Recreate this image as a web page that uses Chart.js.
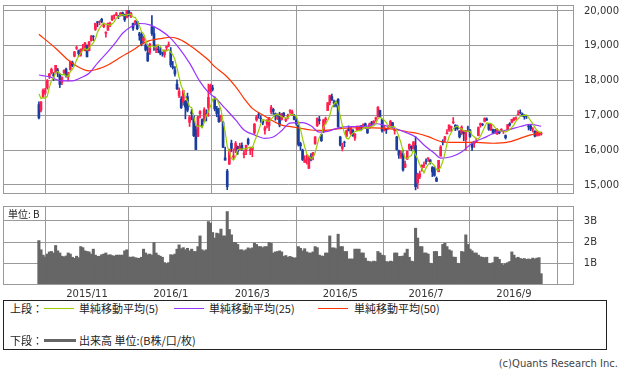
<!DOCTYPE html>
<html lang="ja">
<head>
<meta charset="UTF-8">
<title>株価チャート</title>
<script src="https://cdn.jsdelivr.net/npm/chart.js"></script>
<style>
  body { margin: 0; background: #fff; width: 625px; height: 373px; overflow: hidden; position: relative;
         font-family: "Noto Sans CJK JP", "DejaVu Sans", sans-serif; color: #222; }
  #priceWrap { position: absolute; left: 0; top: 0; width: 625px; height: 200px; }
  #volWrap { position: absolute; left: 0; top: 200px; width: 625px; height: 100px; }
  #unit { position: absolute; left: 8px; top: 207px; font-size: 10px; line-height: 14px; }
  #legend { position: absolute; left: 3px; top: 300px; width: 602px; height: 48px; border: 1px solid #222; font-size: 11px; }
  #legend span { position: absolute; line-height: 14px; white-space: nowrap; }
  #legend i { position: absolute; height: 1px; }
  #copy { position: absolute; right: 7px; top: 357px; font-size: 10px; line-height: 14px; font-family: "DejaVu Sans", sans-serif; color: #444; }
</style>
</head>
<body>
<div id="priceWrap"><canvas id="priceChart"></canvas></div>
<div id="volWrap"><canvas id="volChart"></canvas></div>
<div id="unit">単位: B</div>
<div id="legend">
  <span style="left:6px;top:0px">上段：</span>
  <i style="left:40px;top:7px;width:30px;background:#99cc00"></i>
  <span style="left:75px;top:0px">単純移動平均(5)</span>
  <i style="left:170px;top:7px;width:30px;background:#9933ff"></i>
  <span style="left:205px;top:0px">単純移動平均(25)</span>
  <i style="left:314px;top:7px;width:30px;background:#ff3300"></i>
  <span style="left:350px;top:0px">単純移動平均(50)</span>
  <span style="left:6px;top:32px">下段：</span>
  <i style="left:40px;top:38px;width:32px;height:3px;background:#666"></i>
  <span style="left:75px;top:32px">出来高 単位:(B株/口/枚)</span>
</div>
<div id="copy">(c)Quants Research Inc.</div>

<script>
// trading-day index of the first session of each month shown on the axis
const monthIdx = [23, 63, 102, 144, 185, 227];
const monthLabels = ['2015/11', '2016/1', '2016/3', '2016/5', '2016/7', '2016/9'];
const priceTicks = [15000, 16000, 17000, 18000, 19000, 20000];
const volTicks = [1, 2, 3];

const opens = [17310,17150,17530,17640,17790,18110,18220,18170,18230,18300,
  18170,17950,18230,18330,18100,18320,18520,18700,18930,18860,
  18730,18920,18860,19010,18860,19150,19280,19470,19690,19690,
  19760,19550,19360,19450,19580,19750,19870,19900,19860,19870,
  19950,19890,19820,20000,19860,19640,19670,19700,19340,19330,
  19140,19020,18800,18800,19550,19350,18880,18900,18860,18770,
  18740,18950,19000,18820,18400,18300,17900,17570,17460,17380,
  17400,17540,16800,17100,16980,16600,16400,17050,16880,16830,
  17050,17230,17680,17790,17460,17190,16990,16960,16800,15780,
  15400,15600,16200,15800,16000,16100,16030,16140,15880,15980,
  16310,16000,16000,16500,16870,17020,16920,16830,16570,16750,
  16700,17100,17170,17050,16900,17030,16880,17070,16850,16950,
  17120,17050,16990,16860,16720,16190,16000,15650,15740,15480,
  15780,15840,16180,16700,16880,16450,16540,16870,17140,17370,
  17540,17390,17300,17460,16380,16050,16220,16400,16620,16480,
  16580,16350,16580,16610,16700,16690,16760,16610,16640,16790,
  16790,16890,16970,17140,16880,16620,16600,16660,16720,16790,
  16560,16380,15980,15820,15900,15510,15740,16040,16110,16040,
  16130,15060,15240,15510,15560,15690,15750,15720,15500,15500,
  15190,15380,15830,16250,16300,16470,16590,16650,16790,16720,
  16670,16550,16490,16520,16300,16640,16580,16180,16190,16240,
  16420,16720,16740,16830,16890,16750,16590,16600,16560,16470,
  16530,16580,16540,16420,16590,16760,16800,16870,16920,17020,
  17090,17040,16980,16970,16700,16690,16600,16540,16420,16440,16460];

const highs = [17390,17400,17760,17780,18030,18210,18360,18230,18440,18350,
  18210,18110,18310,18360,18240,18560,18560,18840,18990,18880,
  18910,19040,19100,19030,19120,19300,19290,19650,19700,19720,
  19790,19640,19400,19650,19680,19860,19890,19960,19870,19960,
  19970,19910,20020,20010,19960,19650,19730,19710,19390,19380,
  19280,19060,18980,19070,19870,19540,19030,18990,18960,18820,
  18880,18990,19110,18950,18550,18400,18020,17790,17540,17720,
  17430,17640,17000,17170,17000,16700,16970,17140,16900,17220,
  17160,17900,17900,17870,17530,17260,17210,17010,16830,16090,
  15450,16030,16290,16040,16250,16120,16200,16210,16000,16150,
  16350,16090,16090,16770,17000,17080,16990,16870,16690,16880,
  16940,17290,17200,17070,17050,17090,17060,17080,16920,17040,
  17170,17150,17030,16960,16730,16230,16030,15840,15870,15830,
  15900,15940,16390,16930,16970,16460,16880,16950,17370,17580,
  17610,17440,17420,17480,16400,16200,16260,16580,16700,16670,
  16590,16480,16700,16700,16710,16760,16780,16620,16780,16830,
  16850,16950,17250,17150,16900,16710,16610,16720,16860,16800,
  16630,16400,16000,15980,16000,15690,15980,16180,16130,16250,
  16390,15340,15400,15580,15660,15750,15790,15730,15530,15520,
  15230,15710,16130,16300,16400,16590,16730,16690,16940,16730,
  16720,16560,16700,16560,16570,16690,16600,16230,16260,16350,
  16670,16780,16770,16930,16930,16760,16750,16610,16600,16620,
  16550,16620,16570,16440,16740,16790,16890,16940,16960,17140,
  17160,17070,17020,17000,16720,16740,16650,16560,16550,16520,16520];

const lows = [16900,17100,17500,17600,17750,18060,18190,18000,18190,18110,
  17800,17880,18160,18100,17990,18300,18400,18680,18890,18700,
  18700,18880,18850,18680,18850,19130,19150,19440,19550,19600,
  19660,19520,19250,19440,19550,19720,19770,19860,19780,19850,
  19860,19700,19800,19850,19810,19440,19600,19460,19160,19000,
  19050,18850,18550,18750,19300,18870,18800,18800,18740,18700,
  18670,18850,18970,18390,18330,18130,17740,17510,17200,17290,
  16900,17100,16680,16870,16390,16020,16390,16930,16650,16830,
  16840,16970,17640,17700,17130,16960,16800,16830,16070,15710,
  14865,15590,15960,15740,15930,15880,16000,15990,15780,15870,
  16150,15870,15810,16470,16830,16920,16800,16730,16460,16640,
  16560,17040,17030,16860,16880,16670,16860,16960,16820,16900,
  17060,16990,16870,16720,16120,16000,15700,15650,15600,15470,
  15690,15720,16170,16680,16750,16250,16500,16750,17140,17300,
  17430,17240,17240,16660,16120,15980,16100,16380,16550,16450,
  16400,16280,16570,16560,16580,16650,16630,16480,16630,16700,
  16750,16830,16950,16940,16520,16550,16480,16600,16700,16640,
  16460,16000,15760,15760,15400,15500,15730,16000,15980,16030,
  14860,14900,15180,15400,15500,15600,15680,15600,15240,15250,
  15100,15380,15830,16150,16230,16470,16540,16530,16760,16560,
  16580,16350,16440,16270,16000,16540,16370,15990,16080,16220,
  16410,16660,16700,16810,16850,16570,16560,16470,16480,16450,
  16470,16540,16480,16320,16590,16690,16780,16840,16880,17010,
  17040,16970,16890,16910,16580,16560,16520,16380,16400,16410,16430];

const closes = [16930,17388,17722,17725,18005,18186,18322,18141,18438,18234,
  17891,18096,18291,18131,18207,18554,18435,18825,18947,18777,
  18903,18935,19083,18683,19116,19265,19265,19642,19671,19697,
  19697,19596,19393,19649,19649,19859,19879,19924,19847,19944,
  19883,19747,20012,19938,19939,19504,19698,19492,19301,19046,
  19230,18883,18565,19049,19353,18986,18916,18886,18789,18769,
  18873,18982,19033,18450,18374,18191,17767,17697,17219,17715,
  17240,17147,16955,17048,16416,16017,16958,17110,16708,17163,
  17041,17518,17865,17750,17191,17044,16819,17004,16085,15713,
  14952,16022,16054,15836,16196,15967,16111,16052,15916,16140,
  16188,16027,16086,16747,16960,17015,16911,16784,16643,16852,
  16939,17233,17117,16974,16937,16725,17049,17000,16892,17002,
  17134,17103,16879,16759,16164,16123,15733,15715,15750,15821,
  15751,15928,16381,16911,16848,16275,16874,16906,17363,17572,
  17440,17353,17290,16666,16147,16106,16216,16565,16579,16646,
  16412,16467,16652,16644,16646,16736,16654,16499,16757,16772,
  16834,16931,17234,16955,16562,16642,16580,16675,16830,16668,
  16601,16019,15859,15919,15434,15599,15965,16169,16065,16238,
  14952,15309,15323,15566,15575,15682,15775,15669,15378,15276,
  15106,15708,16095,16231,16385,16497,16723,16681,16810,16627,
  16620,16383,16664,16476,16569,16635,16391,16083,16254,16254,
  16650,16764,16735,16919,16869,16596,16745,16486,16545,16598,
  16497,16597,16555,16360,16737,16725,16887,16926,16925,17037,
  17081,17012,16958,16965,16672,16612,16614,16405,16519,16480,16500];

// volume in billions of shares
const volume = [2.08,1.65,1.40,1.31,1.45,1.55,1.57,1.50,1.85,1.60,
  1.50,1.35,1.32,1.36,1.50,1.45,1.30,1.25,1.35,1.28,
  1.80,1.75,1.60,1.57,1.55,1.45,1.68,1.40,1.34,1.35,
  1.42,1.45,1.50,1.40,1.42,1.38,1.35,1.40,1.40,1.40,
  1.40,1.60,1.65,1.31,1.30,1.32,1.28,1.26,1.25,1.30,
  1.68,1.50,1.42,1.45,1.40,1.99,1.50,1.40,1.35,1.30,
  1.05,1.00,1.05,1.42,1.40,1.45,1.68,1.88,1.70,1.75,
  1.65,1.72,1.60,1.68,1.57,1.57,1.80,2.30,1.65,1.60,
  1.65,2.97,2.90,2.46,2.20,2.43,2.40,2.62,2.30,2.30,
  3.44,2.60,2.35,2.00,1.99,1.90,1.65,1.65,1.60,1.65,
  1.74,1.70,1.74,1.96,1.90,1.80,1.80,1.75,1.80,1.80,
  1.99,1.95,1.50,1.55,1.57,1.60,1.55,1.34,1.38,1.30,
  1.34,1.30,1.26,1.28,1.80,1.72,1.60,1.70,1.55,1.50,
  1.50,1.55,1.80,1.75,1.40,1.36,1.35,1.50,1.50,2.30,
  1.74,1.74,1.70,2.38,1.80,1.80,1.57,1.57,1.22,1.22,
  1.22,1.68,1.68,1.68,1.50,1.50,1.26,1.12,1.10,1.08,
  1.12,1.10,1.57,1.50,1.40,1.38,1.10,1.08,1.12,1.10,
  1.50,1.50,1.34,1.34,1.36,1.50,1.68,1.30,1.12,1.10,
  2.66,2.20,1.80,1.80,1.50,1.50,1.45,1.02,1.00,1.57,
  1.57,1.34,1.34,1.90,1.96,1.80,1.65,1.60,1.31,1.30,
  1.02,1.00,1.57,1.55,2.35,1.90,1.68,1.60,1.50,1.50,
  1.40,1.32,1.30,1.28,1.30,1.02,1.00,1.05,1.31,1.30,
  1.20,1.00,0.95,1.00,1.05,1.10,1.55,1.40,1.26,1.30,
  1.24,1.22,1.24,1.20,1.22,1.20,1.26,1.22,1.26,1.28,0.53];

// simple moving averages
const ma5 = [17620,17483,17513,17482,17554,17805,17992,18076,18218,18264,
  18205,18160,18190,18129,18123,18256,18324,18430,18594,18708,
  18777,18877,18929,18876,18944,19016,19082,19194,19392,19508,
  19594,19661,19611,19606,19597,19629,19686,19792,19832,19891,
  19895,19869,19887,19905,19904,19828,19818,19714,19587,19408,
  19353,19190,19005,18955,19016,18967,18974,19038,18986,18869,
  18847,18860,18889,18821,18742,18606,18363,18096,17850,17718,
  17528,17404,17255,17221,16961,16717,16679,16710,16642,16791,
  16996,17108,17259,17467,17473,17474,17334,17162,16829,16533,
  16115,15955,15765,15715,15812,16015,16033,16032,16048,16037,
  16081,16065,16071,16238,16402,16567,16744,16883,16863,16841,
  16826,16890,16957,17023,17040,16997,16960,16937,16921,16934,
  17015,17026,17002,16975,16808,16606,16332,16099,15897,15828,
  15754,15793,15926,16158,16364,16469,16658,16763,16853,16998,
  17231,17327,17404,17264,16979,16712,16485,16340,16323,16422,
  16484,16534,16551,16564,16564,16629,16666,16636,16658,16684,
  16703,16759,16906,16945,16903,16865,16795,16683,16658,16679,
  16671,16559,16395,16213,15966,15766,15755,15817,15846,16007,
  15878,15747,15577,15478,15345,15491,15584,15653,15616,15556,
  15441,15427,15513,15683,15905,16183,16386,16503,16619,16668,
  16692,16624,16621,16554,16542,16545,16547,16431,16386,16323,
  16326,16401,16531,16664,16787,16777,16773,16723,16648,16594,
  16574,16545,16558,16521,16549,16595,16653,16727,16840,16900,
  16971,16996,17003,17011,16938,16844,16764,16654,16564,16526,16504];

// [trading-day index, value]
const ma25 = [[0,18160],[5,18110],[11,17990],[16,17990],[20,18080],[24,18210],[28,18500],
  [33,18830],[37,19120],[40,19360],[44,19550],[48,19640],[53,19600],[58,19450],[63,19215],
  [67,18930],[72,18500],[77,17970],[81,17660],[84,17520],[89,17200],[94,16870],[98,16580],
  [103,16440],[108,16340],[112,16380],[116,16560],[120,16780],[126,16790],[130,16700],
  [134,16520],[138,16540],[142,16620],[146,16670],[152,16680],[158,16700],[161,16760],
  [166,16700],[170,16630],[175,16520],[180,16380],[184,16150],[189,15910],[192,15770],
  [197,15810],[202,15950],[207,16200],[214,16390],[219,16530],[224,16580],[230,16680],
  [235,16740],[240,16690]];

const ma50 = [[0,19330],[8,18930],[14,18590],[18,18420],[24,18280],[28,18330],[33,18450],
  [39,18670],[45,18880],[51,19110],[59,19215],[63,19245],[67,19190],[73,18975],[78,18740],
  [81,18590],[84,18400],[89,18160],[94,17830],[98,17490],[102,17200],[107,17010],[111,16870],
  [116,16720],[121,16670],[125,16630],[130,16580],[136,16570],[144,16620],[152,16645],
  [160,16640],[170,16600],[176,16530],[181,16480],[186,16390],[192,16250],[197,16225],
  [203,16225],[209,16225],[217,16200],[224,16230],[230,16340],[235,16440],[240,16510]];

const UP = '#ff1e4e';
const DOWN = '#1a3c9e';
const GRID = '#9a9a9a';
const X_MIN = -17.15, X_MAX = 255.7;

const candleColors = closes.map((c, i) => c >= opens[i] ? UP : DOWN);

// draws the box round each plot area
const frame = {
  id: 'frame',
  afterDraw(chart) {
    const a = chart.chartArea, ctx = chart.ctx;
    ctx.save();
    ctx.strokeStyle = GRID;
    ctx.lineWidth = 1;
    ctx.strokeRect(a.left + 0.5, a.top + 0.5, a.right - a.left - 1, a.bottom - a.top - 1);
    ctx.restore();
  }
};

const tickFont = { family: 'DejaVu Sans', size: 10 };

function monthAxis(showLabels) {
  return {
    type: 'linear', min: X_MIN, max: X_MAX, offset: false,
    grid: { color: GRID, drawTicks: false },
    border: { display: false },
    afterBuildTicks: s => { s.ticks = monthIdx.map(v => ({ value: v })); },
    ticks: {
      display: showLabels, autoSkip: false, maxRotation: 0, padding: 3,
      font: tickFont, color: '#333',
      callback: v => monthLabels[monthIdx.indexOf(v)]
    },
    afterFit: s => { s.height = showLabels ? 15 : 0; s.paddingLeft = 0; s.paddingRight = 0; }
  };
}

// right-hand value axis; the label paddings are cleared so the plot keeps its box
function valueAxis(min, max, ticks, width, pad, align, fmt) {
  return {
    position: 'right', min: min, max: max,
    grid: { color: GRID, drawTicks: false },
    border: { display: false },
    afterBuildTicks: s => { s.ticks = ticks.map(v => ({ value: v })); },
    ticks: { padding: pad, crossAlign: align, font: tickFont, color: '#333', callback: fmt },
    afterFit: s => { s.width = width; s.paddingTop = 0; s.paddingBottom = 0; }
  };
}

new Chart(document.getElementById('priceChart'), {
  type: 'bar',
  data: {
    datasets: [
      { type: 'line', data: ma5.map((v, i) => ({ x: i, y: v })), borderColor: '#99cc00',
        borderWidth: 1.2, pointRadius: 0, order: 0 },
      { type: 'line', data: ma25.map(p => ({ x: p[0], y: p[1] })), borderColor: '#9933ff',
        borderWidth: 1.2, pointRadius: 0, cubicInterpolationMode: 'monotone', order: 1 },
      { type: 'line', data: ma50.map(p => ({ x: p[0], y: p[1] })), borderColor: '#ff3300',
        borderWidth: 1.2, pointRadius: 0, cubicInterpolationMode: 'monotone', order: 1 },
      { data: opens.map((o, i) => ({ x: i, y: [o, closes[i]] })), backgroundColor: candleColors,
        barThickness: 2, grouped: false, order: 2 },
      { data: lows.map((l, i) => ({ x: i, y: [l, highs[i]] })), backgroundColor: candleColors,
        barThickness: 1, grouped: false, order: 3 }
    ]
  },
  options: {
    responsive: true, maintainAspectRatio: false, animation: false,
    layout: { padding: { left: 3, top: 5, right: 0, bottom: 6 } },
    plugins: { legend: { display: false }, tooltip: { enabled: false } },
    scales: {
      x: monthAxis(false),
      y: valueAxis(14741, 20172, priceTicks, 51, 10, 'near', v => v.toLocaleString('en-US'))
    }
  },
  plugins: [frame]
});

new Chart(document.getElementById('volChart'), {
  type: 'bar',
  data: {
    datasets: [
      { data: volume.map((v, i) => ({ x: i, y: v })), backgroundColor: '#666666',
        barThickness: 2.4, grouped: false }
    ]
  },
  options: {
    responsive: true, maintainAspectRatio: false, animation: false,
    layout: { padding: { left: 3, top: 6, right: 28, bottom: 0 } },
    plugins: { legend: { display: false }, tooltip: { enabled: false } },
    scales: {
      x: monthAxis(true),
      y: valueAxis(0, 3.7, volTicks, 23, 4, 'far', v => v + 'B')
    }
  },
  plugins: [frame]
});
</script>
</body>
</html>
